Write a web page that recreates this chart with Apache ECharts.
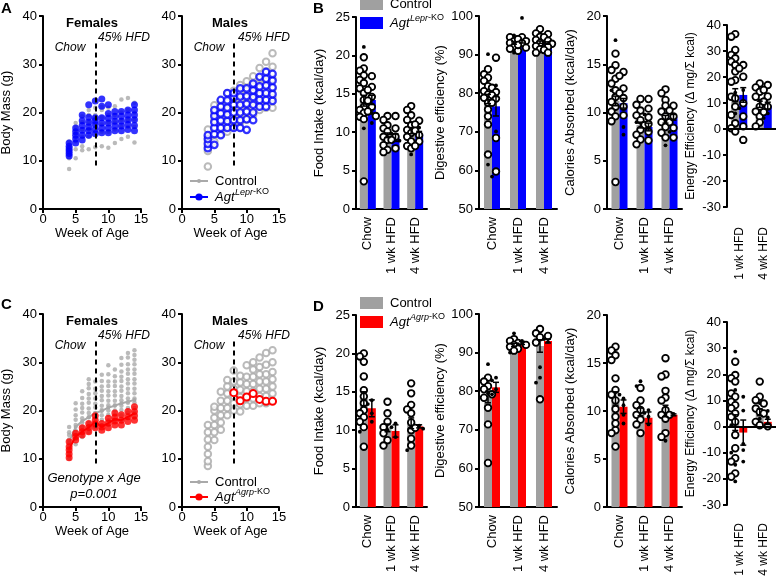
<!DOCTYPE html>
<html><head><meta charset="utf-8">
<script src="https://cdn.jsdelivr.net/npm/echarts@6/dist/echarts.min.js"></script>
<style>html,body{margin:0;padding:0;background:#fff}#c{width:776px;height:581px}</style>
</head><body><div id="c"></div>
<script>
// ---------------- DATA ----------------
const weeks = [4,5,6,7,8,9,10,11,12,13,14];
const barCats = ['Chow','1 wk HFD','4 wk HFD'];
const eeCats = ['1 wk HFD','4 wk HFD'];

// Panel A females (per week lists, body mass g)
const A_fem_ctrl = [
 [8.3,10.5,11.2,12.0,12.4,13.0,14.0],[10.5,12.4,14.0,15.0,16.0,17.0,17.8],[12.2,13.0,15.0,16.5,18.0,19.2],
 [12.4,15.0,16.5,18.0,19.5,20.5],[12.8,16.0,17.5,19.0,19.5,21.0],[13.0,16.0,17.5,19.0,20.5,21.2],
 [12.7,16.0,18.0,19.5,21.0],[13.7,16.5,18.0,19.5,21.3],[14.5,17.0,18.5,20.0,22.7],[15.0,17.0,18.5,20.5,23.0],[13.8,17.0,18.5,20.0,22.0]];
const A_fem_ko = [
 [11.0,11.5,12.0,12.5,13.0,13.7],[13.7,14.5,15.3,16.0,16.8],[14.3,15.3,16.3,17.3,18.3,19.5],
 [15.3,16.2,17.0,18.0,19.0,21.6],[15.6,16.5,17.5,18.3,18.9,22.4],[15.8,16.8,17.8,18.9,21.3,22.8],
 [15.8,16.8,17.8,18.8,19.8,21.6],[16.2,17.2,18.2,19.2,20.2],[16.2,17.2,18.2,19.2,20.2],[16.5,17.5,18.5,19.5,20.5],[16.2,17.3,18.5,19.5,20.5,21.6]];
// Panel A males
const A_male_ctrl = [
 [8.8,12.0,13.0,14.0,15.0,16.5],[14.0,15.5,17.0,18.5,20.0,21.5],[15.5,17.0,18.5,20.0,21.5,22.5],
 [16.0,17.5,19.0,20.5,22.0,24.0],[17.0,18.5,20.0,21.5,23.0,24.5],[18.0,19.5,21.0,22.5,24.0,25.7],
 [18.5,20.0,21.5,23.0,24.5,26.5],[19.5,21.0,22.5,24.0,25.5,27.5],[20.5,22.0,23.5,25.0,27.0,29.2],
 [21.0,22.5,24.5,26.5,28.5,30.5],[21.0,23.0,25.0,27.0,29.5,32.3]];
const A_male_ko = [
 [12.6,13.5,14.5,15.3],[13.3,15.5,16.8,18.0,19.3,20.5],[15.3,16.8,18.3,19.8,21.2,22.6],
 [16.8,18.2,19.6,21.0,22.5,24.0],[16.8,18.4,20.0,21.6,23.2,24.0],[16.8,18.4,20.0,21.6,23.3,25.0],
 [16.4,18.6,20.2,21.8,23.4,25.0],[18.4,20.0,21.6,23.2,24.6,26.0],[21.2,22.6,24.0,25.4,27.4],
 [21.2,22.6,24.0,25.6,27.0,28.4],[22.4,23.8,25.2,26.6,28.0]];
// Panel C females
const C_fem_ctrl = [
 [10.0,10.9,11.6,12.5,13.1,14.0,14.9,15.5,16.6],[13.0,14.1,15.0,15.8,17.0,18.1,19.0,20.2,21.5],
 [14.5,15.4,16.6,17.5,18.4,19.6,20.5,21.4,22.6,24.0],[15.5,16.6,17.4,18.6,19.5,20.4,21.6,22.5,23.4,24.6,25.5,26.5],
 [16.5,17.6,18.4,19.5,20.6,21.4,22.5,23.6,24.5,26.0],[17.0,18.1,19.0,20.1,21.0,22.1,23.0,24.1,25.0,26.1,27.4],
 [17.0,18.0,19.1,20.0,21.1,22.0,23.1,24.0,25.1,26.0,27.5,29.4],[18.0,19.1,20.0,21.1,22.0,23.1,24.0,25.1,26.0,27.1,28.5],
 [18.0,19.0,20.1,21.0,22.1,23.0,24.1,25.0,26.1,27.0,28.1,29.5,30.9],[18.5,19.6,20.5,21.6,22.5,23.6,24.5,25.6,26.5,27.6,28.5,29.6,31.0,31.9],
 [18.5,19.6,20.5,21.6,22.5,23.6,24.5,25.6,26.5,27.6,28.5,29.6,30.5,31.5,32.5]];
const C_fem_ko = [
 [10.2,11.0,11.8,12.5,13.5],[13.9,14.6,15.3],[14.9,15.6,16.4],[15.6,16.5,17.3],[16.4,17.2,18.0,18.9],
 [15.9,16.6,17.3],[16.4,17.4,18.4],[17.0,17.8,18.6,19.5],[17.0,18.0,19.1],[17.7,18.7,19.8],[18.0,18.9,19.8,20.8]];
const C_fem_ctrl_mean = [13.5,16.6,17.8,18.6,19.5,19.9,20.6,21.0,21.5,21.8,22.2];
const C_fem_ko_mean = [12.0,14.6,15.6,16.5,17.6,16.6,17.4,18.2,18.0,18.7,19.4];
// Panel C males
const C_male_ctrl = [
 [8.5,9.5,11.0,12.5,14.0,15.5,17.0],[13.9,15.5,17.0,18.5,20.0,20.8],[16.0,17.5,19.0,20.5,22.0,23.9],
 [19.0,20.5,22.0,23.5,25.0,26.3],[20.0,21.5,23.0,24.5,26.0,28.3],[19.8,21.3,22.8,24.3,25.8,27.2],
 [21.0,22.5,24.0,25.5,27.0,29.4],[21.0,22.5,24.0,25.5,27.0,28.5,30.0],[21.5,23.0,24.5,26.0,27.5,29.0,31.0],
 [21.5,23.0,24.5,26.0,27.5,29.5,31.9],[22.0,23.5,25.0,26.5,28.0,30.0,32.5]];
const C_male_ko_weeks = [8,9,10,11,12,13,14];
const C_male_ko = [23.7,22.0,22.8,23.5,22.3,21.9,21.9];

// Panel B (Agt Lepr-KO)
const B_food_ctrl_mean=[14.1,9.6,10.2], B_food_ko_mean=[14.2,9.3,9.7];
const B_food_ctrl_sem=[0.7,0.3,0.4], B_food_ko_sem=[0.6,0.5,0.4];
const B_food_ctrl_open=[[19.75,18.3,18.0,17.4,16.8,16.4,15.7,15.1,14.2,13.3,12.9,12.5,12.0,11.7,3.6],[12.1,11.6,10.9,10.5,10.1,9.4,9.0,8.3,7.7,7.4],[13.4,12.9,12.2,11.6,10.9,10.3,9.9,9.4,8.8,8.2,7.9]];
const B_food_ctrl_dot=[[21.1,10.5],[9.8],[7.1]];
const B_food_ko_open=[[17.3,15.9,15.5,14.6,14.1,13.3,12.7,12.1],[12.1,10.5,9.4,9.0,7.9],[11.5,11.0,10.2,9.6,8.8,8.2]];
const B_food_ko_dot=[[12.5,11.2],[8.9],[10.6]];

const B_dig_ctrl_mean=[78.5,93.0,93.2], B_dig_ko_mean=[76.6,93.3,93.0];
const B_dig_ctrl_sem=[1.2,0.3,0.3], B_dig_ko_sem=[2.5,0.3,0.3];
const B_dig_ctrl_open=[[86.2,84.9,84.0,83.2,81.8,80.5,79.7,78.8,77.5,75.8,74.0,71.9,64.1],[94.5,94.0,93.5,93.0,92.5,92.0,91.5,91.0],[96.6,95.5,94.6,93.8,93.0,92.2,91.4,90.5]];
const B_dig_ctrl_dot=[[90.1,61.5],[95.0,90.5],[92.0]];
const B_dig_ko_open=[[89.2,81.4,80.3,79.5,78.6,77.5,68.4,59.7],[94.5,94.0,93.5,93.0,92.5,91.8],[95.3,94.5,93.6,92.8,92.0,91.2,90.5]];
const B_dig_ko_dot=[[82.0,70.1,58.4],[99.5],[93.0]];

const B_cal_ctrl_mean=[11.2,8.7,9.3], B_cal_ko_mean=[10.95,8.5,9.5];
const B_cal_ctrl_sem=[0.5,0.3,0.4], B_cal_ko_sem=[0.5,0.4,0.3];
const B_cal_ctrl_open=[[16.1,14.9,14.4,13.5,13.0,12.3,11.6,11.1,10.6,10.1,9.6,9.1,2.8],[11.4,10.8,10.2,9.7,9.2,8.7,8.2,7.7,7.2,6.7],[12.4,12.0,11.3,10.7,10.1,9.6,9.0,8.5,7.9,7.4]];
const B_cal_ctrl_dot=[[17.5,12.3],[9.0],[6.6]];
const B_cal_ko_open=[[14.2,13.8,12.5,12.0,11.5,10.6,9.7],[11.4,10.4,9.5,8.8,8.0,7.1],[10.7,10.2,9.6,9.0,8.4,7.4]];
const B_cal_ko_dot=[[8.5,7.7],[9.8],[8.0]];

const B_ee_ctrl_mean=[13.0,9.5], B_ee_ko_mean=[13.1,9.0];
const B_ee_ctrl_sem=[2.5,1.2], B_ee_ko_sem=[2.8,1.3];
const B_ee_ctrl_open=[[36.5,35.5,30.4,28.5,27.2,25.9,24.6,22.1,18.8,18.2,12.4,11.8,8.6,5.4,2.2,0.3,-1.0],[17.5,16.0,14.3,12.4,10.5,8.6,6.7,4.8,2.5,1.0]];
const B_ee_ctrl_dot=[[14.0,6.0],[11.0]];
const B_ee_ko_open=[[24.6,23.3,20.1,9.9,4.8,1.0,-4.2],[16.9,15.0,12.5,10.5,8.6,6.5]];
const B_ee_ko_dot=[[15.0,8.0],[4.2,6.0]];

// Panel D (Agt Agrp-KO)
const D_food_ctrl_mean=[14.1,10.3,10.9], D_food_ko_mean=[12.85,9.9,10.5];
const D_food_ctrl_sem=[0.9,0.5,0.7], D_food_ko_sem=[1.1,0.8,0.2];
const D_food_ctrl_open=[[20.0,19.6,18.9,17.0,15.2,14.4,13.5,12.6,12.2,11.7,11.1,10.4,7.85],[13.7,12.2,11.1,10.4,9.6,8.7,8.0],[16.1,14.8,13.3,12.7,12.2,11.0,10.0,8.9,8.0]];
const D_food_ctrl_dot=[[9.8],[10.0],[7.4]];
const D_food_ko_open=[[],[],[10.3]];
const D_food_ko_dot=[[13.9,13.4,12.2,11.1],[10.9,10.4,9.1],[10.2,10.6]];

const D_dig_ctrl_mean=[78.5,92.0,91.7], D_dig_ko_mean=[81.0,92.5,93.0];
const D_dig_ctrl_sem=[1.5,0.4,1.6], D_dig_ko_sem=[1.3,0.4,0.5];
const D_dig_ctrl_open=[[83.5,82.5,81.3,80.5,79.2,78.3,75.7,71.4,61.4],[93.5,93.0,92.5,92.0,91.5,91.0,90.5],[96.1,95.0,94.0,92.6,77.9]];
const D_dig_ctrl_dot=[[87.0,79.5],[95.0,90.0],[86.2,83.5,82.2]];
const D_dig_ko_open=[[],[92.0],[94.3]];
const D_dig_ko_dot=[[83.5,82.8,80.5,79.2],[93.0,92.2],[93.5,92.8]];

const D_cal_ctrl_mean=[11.3,9.9,10.0], D_cal_ko_mean=[10.45,9.3,9.6];
const D_cal_ctrl_sem=[0.7,0.4,0.6], D_cal_ko_sem=[0.7,0.6,0.1];
const D_cal_ctrl_open=[[16.7,16.3,15.8,15.3,13.4,12.2,11.7,11.1,10.2,9.4,8.7,8.0,7.7,6.3],[12.4,11.1,10.6,10.1,9.6,9.1,8.6,7.7],[15.5,13.8,13.6,12.1,11.4,11.1,10.1,9.6,9.2,7.7,7.3]];
const D_cal_ctrl_dot=[[11.7],[13.1,12.6],[6.9]];
const D_cal_ko_open=[[],[],[9.6]];
const D_cal_ko_dot=[[11.3,10.6,9.6,8.7],[10.1,9.8,9.4,8.6],[9.7]];

const D_ee_ctrl_mean=[1.5,5.5], D_ee_ko_mean=[-2.3,1.8];
const D_ee_ctrl_sem=[3.0,1.3], D_ee_ko_sem=[4.8,1.0];
const D_ee_ctrl_open=[[24.8,19.7,18.5,17.2,12.7,11.4,9.5,8.2,7.0,5.0,3.7,1.8,-3.2,-8.3,-12.1,-13.4,-17.9,-19.2],[17.2,11.4,10.1,8.8,6.9,5.6,5.0,1.8,0.5]];
const D_ee_ctrl_dot=[[28.7,14.0,0.5,-10.0,-14.6,-21.0],[9.0,3.0]];
const D_ee_ko_open=[[],[0.1]];
const D_ee_ko_dot=[[11.4,6.1,-6.6,-9.0,-13.4],[6.0,3.5]];

// ---------------- STYLE / BUILD ----------------
const FF = '"Liberation Sans", Arial, sans-serif';
const PT_GRAY = '#a9a9a9', BAR_GRAY = '#a0a0a0', BLUE = '#0000ff', RED = '#ff0000';
const BW = 8;
const grids=[], xAxes=[], yAxes=[], series=[], graphics=[];
const lineSt = {color:'#000', width:2};

function yAxisCfg(gi,min,max,interval,name,fs){
  return {gridIndex:gi,type:'value',min,max,interval,
    axisLine:{show:true,onZero:false,lineStyle:lineSt},
    axisTick:{show:true,length:4,lineStyle:lineSt},
    axisLabel:{color:'#000',fontSize:13,fontFamily:FF,margin:6},
    splitLine:{show:false},
    name:name||'',nameLocation:'middle',nameGap:30,
    nameTextStyle:{color:'#000',fontSize:fs||13,fontFamily:FF}};
}
function flatten(ws, lists){ const out=[]; ws.forEach((w,i)=>lists[i].forEach(v=>out.push([w,v]))); return out; }

function scatterPanel(p){
  const gi=grids.length;
  grids.push({left:p.left,top:p.top,width:p.w,height:p.h,containLabel:false,outerBoundsMode:'none'});
  xAxes.push({gridIndex:gi,type:'value',min:0,max:15,interval:5,
    axisLine:{onZero:false,lineStyle:lineSt},axisTick:{length:4,lineStyle:lineSt},
    axisLabel:{color:'#000',fontSize:13,fontFamily:FF,margin:4},splitLine:{show:false},
    name:'Week of Age',nameLocation:'middle',nameGap:17,nameTextStyle:{color:'#000',fontSize:13,fontFamily:FF}});
  yAxes.push(yAxisCfg(gi,0,40,10,p.yName));
  const ax={xAxisIndex:gi,yAxisIndex:gi};
  if(p.ctrlMean) series.push(Object.assign({type:'line',data:weeks.map((w,i)=>[w,p.ctrlMean[i]]),symbol:'circle',symbolSize:4,
     lineStyle:{color:PT_GRAY,width:2},itemStyle:{color:PT_GRAY},z:3},ax));
  series.push(Object.assign({type:'scatter',data:flatten(weeks,p.ctrl),symbolSize:p.ctrlSize,
    itemStyle:p.ctrlOpen?{color:'#fff',borderColor:PT_GRAY,borderWidth:2}:{color:PT_GRAY},z:2,
    markLine:{silent:true,symbol:'none',label:{show:false},lineStyle:{color:'#000',width:2,type:[5,4]},
      data:[[{coord:[8,9]},{coord:[8,34.5]}]]}},ax));
  if(p.ko) series.push(Object.assign({type:'scatter',data:flatten(weeks,p.ko),symbolSize:p.koSize,
    itemStyle:p.koOpen?{color:'#fff',borderColor:p.koColor,borderWidth:2.2}:{color:p.koColor},z:4},ax));
  if(p.koMean) series.push(Object.assign({type:'line',data:weeks.map((w,i)=>[w,p.koMean[i]]),symbol:'none',
     lineStyle:{color:p.koColor,width:2},z:3},ax));
  if(p.koLine) series.push(Object.assign({type:'line',data:p.koLineWeeks.map((w,i)=>[w,p.koLine[i]]),symbol:'circle',symbolSize:7,
     lineStyle:{color:p.koColor,width:2},itemStyle:{color:'#fff',borderColor:p.koColor,borderWidth:2},z:5},ax));
}

function swarm(vals, range){
  const n=vals.length, dx=new Array(n).fill(0);
  const order=vals.map((v,i)=>i).sort((a,b)=>vals[b]-vals[a]);
  const thr=range*0.03, cand=[0,-2.5,2.5,-4,4], placed=[];
  order.forEach(i=>{
    let best=0,bestC=1e9;
    for(const c of cand){
      let conf=0; placed.forEach(j=>{ if(Math.abs(vals[j]-vals[i])<thr && Math.abs(dx[j]-c)<3) conf++; });
      if(conf<bestC){bestC=conf;best=c;} if(conf===0) break;
    }
    dx[i]=best; placed.push(i);
  });
  return dx;
}
function pointData(open, dot, side, range){
  const out=[];
  open.forEach((lst,ci)=>{
    const all=lst.concat(dot[ci]); const dx=swarm(all,range);
    all.forEach((v,k)=>out.push([ci,v,dx[k],side,k<lst.length?0:1]));
  });
  return out;
}
function renderPoint(params, api){
  const c=api.coord([api.value(0),api.value(1)]);
  const x=c[0]+api.value(3)*BW/2+api.value(2);
  if(api.value(4)===0) return {type:'circle',shape:{cx:x,cy:c[1],r:3.3},style:{fill:'#fff',stroke:'#000',lineWidth:1.8}};
  return {type:'circle',shape:{cx:x,cy:c[1],r:1.9},style:{fill:'#000'}};
}
function renderErr(params, api){
  const i=api.value(0), m=api.value(1), s=api.value(2), side=api.value(3);
  const x=api.coord([i,m])[0]+side*BW/2;
  const y1=api.coord([i,m+s])[1], y2=api.coord([i,m-s])[1];
  const st={stroke:'#000',lineWidth:1.5};
  return {type:'group',children:[
    {type:'line',shape:{x1:x,y1:y1,x2:x,y2:y2},style:st},
    {type:'line',shape:{x1:x-3,y1:y1,x2:x+3,y2:y1},style:st},
    {type:'line',shape:{x1:x-3,y1:y2,x2:x+3,y2:y2},style:st}]};
}

function barPanel(p){
  const gi=grids.length;
  grids.push({left:p.left,top:p.top,width:p.w,height:p.h,containLabel:false,outerBoundsMode:'none'});
  xAxes.push({gridIndex:gi,type:'category',data:p.cats,
    axisLine:{show:!p.zero,onZero:false,lineStyle:lineSt},axisTick:{show:false},
    axisLabel:{rotate:90,interval:0,color:'#000',fontSize:p.labelSize||13,fontFamily:FF,margin:p.margin||8}});
  yAxes.push(yAxisCfg(gi,p.min,p.max,p.interval,p.name,p.nameSize));
  const ax={xAxisIndex:gi,yAxisIndex:gi};
  series.push(Object.assign({type:'bar',data:p.cm,barWidth:BW,barGap:'0%',itemStyle:{color:BAR_GRAY},z:2},ax));
  const ko=Object.assign({type:'bar',data:p.km,barWidth:BW,barGap:'0%',itemStyle:{color:p.koColor},z:2},ax);
  if(p.zero) ko.markLine={silent:true,symbol:'none',label:{show:false},lineStyle:{color:'#000',width:2,type:'solid'},data:[{yAxis:0}]};
  series.push(ko);
  const range=p.max-p.min;
  series.push(Object.assign({type:'custom',renderItem:renderPoint,z:4,
    data:pointData(p.co,p.cd,-1,range).concat(pointData(p.ko,p.kd,1,range))},ax));
  series.push(Object.assign({type:'custom',renderItem:renderErr,z:5,
    data:p.cm.map((m,i)=>[i,m,p.cs[i],-1]).concat(p.km.map((m,i)=>[i,m,p.ks[i],1]))},ax));
}

// ---- Row 1 ----
scatterPanel({left:43,top:16,w:98,h:193,yName:'Body Mass (g)',ctrl:A_fem_ctrl,ctrlSize:4.5,ko:A_fem_ko,koSize:7,koColor:BLUE});
scatterPanel({left:182,top:16,w:97,h:193,ctrl:A_male_ctrl,ctrlSize:6.5,ctrlOpen:true,ko:A_male_ko,koSize:6.5,koOpen:true,koColor:BLUE});
barPanel({left:356,top:17,w:71,h:192,cats:barCats,min:0,max:25,interval:5,name:'Food Intake (kcal/day)',koColor:BLUE,
  cm:B_food_ctrl_mean,km:B_food_ko_mean,cs:B_food_ctrl_sem,ks:B_food_ko_sem,co:B_food_ctrl_open,cd:B_food_ctrl_dot,ko:B_food_ko_open,kd:B_food_ko_dot});
barPanel({left:479,top:16,w:78,h:193,cats:barCats,min:50,max:100,interval:10,name:'Digestive efficiency (%)',koColor:BLUE,
  cm:B_dig_ctrl_mean,km:B_dig_ko_mean,cs:B_dig_ctrl_sem,ks:B_dig_ko_sem,co:B_dig_ctrl_open,cd:B_dig_ctrl_dot,ko:B_dig_ko_open,kd:B_dig_ko_dot});
barPanel({left:607,top:16,w:75,h:193,cats:barCats,min:0,max:20,interval:5,name:'Calories Absorbed (kcal/day)',koColor:BLUE,
  cm:B_cal_ctrl_mean,km:B_cal_ko_mean,cs:B_cal_ctrl_sem,ks:B_cal_ko_sem,co:B_cal_ctrl_open,cd:B_cal_ctrl_dot,ko:B_cal_ko_open,kd:B_cal_ko_dot});
barPanel({left:727,top:25,w:49,h:182,cats:eeCats,min:-30,max:40,interval:10,name:'Energy Efficiency (\u0394 mg/\u03a3 kcal)',nameSize:12,koColor:BLUE,zero:true,margin:20,labelSize:12,
  cm:B_ee_ctrl_mean,km:B_ee_ko_mean,cs:B_ee_ctrl_sem,ks:B_ee_ko_sem,co:B_ee_ctrl_open,cd:B_ee_ctrl_dot,ko:B_ee_ko_open,kd:B_ee_ko_dot});
// ---- Row 2 ----
scatterPanel({left:43,top:314,w:98,h:193,yName:'Body Mass (g)',ctrl:C_fem_ctrl,ctrlSize:4.5,ctrlMean:C_fem_ctrl_mean,ko:C_fem_ko,koSize:7,koColor:RED,koMean:C_fem_ko_mean});
scatterPanel({left:182,top:314,w:97,h:193,ctrl:C_male_ctrl,ctrlSize:6.5,ctrlOpen:true,koColor:RED,koLine:C_male_ko,koLineWeeks:C_male_ko_weeks});
barPanel({left:356,top:315,w:71,h:192,cats:barCats,min:0,max:25,interval:5,name:'Food Intake (kcal/day)',koColor:RED,
  cm:D_food_ctrl_mean,km:D_food_ko_mean,cs:D_food_ctrl_sem,ks:D_food_ko_sem,co:D_food_ctrl_open,cd:D_food_ctrl_dot,ko:D_food_ko_open,kd:D_food_ko_dot});
barPanel({left:479,top:314,w:78,h:193,cats:barCats,min:50,max:100,interval:10,name:'Digestive efficiency (%)',koColor:RED,
  cm:D_dig_ctrl_mean,km:D_dig_ko_mean,cs:D_dig_ctrl_sem,ks:D_dig_ko_sem,co:D_dig_ctrl_open,cd:D_dig_ctrl_dot,ko:D_dig_ko_open,kd:D_dig_ko_dot});
barPanel({left:607,top:315,w:75,h:192,cats:barCats,min:0,max:20,interval:5,name:'Calories Absorbed (kcal/day)',koColor:RED,
  cm:D_cal_ctrl_mean,km:D_cal_ko_mean,cs:D_cal_ctrl_sem,ks:D_cal_ko_sem,co:D_cal_ctrl_open,cd:D_cal_ctrl_dot,ko:D_cal_ko_open,kd:D_cal_ko_dot});
barPanel({left:727,top:322,w:49,h:183,cats:eeCats,min:-30,max:40,interval:10,name:'Energy Efficiency (\u0394 mg/\u03a3 kcal)',nameSize:12,koColor:RED,zero:true,margin:18,labelSize:12,
  cm:D_ee_ctrl_mean,km:D_ee_ko_mean,cs:D_ee_ctrl_sem,ks:D_ee_ko_sem,co:D_ee_ctrl_open,cd:D_ee_ctrl_dot,ko:D_ee_ko_open,kd:D_ee_ko_dot});

// ---- annotations ----
function txt(x,y,text,font,align,extra){
  graphics.push({type:'text',x,y,silent:true,style:Object.assign({text,font:font+' '+FF,fill:'#000',align:align||'left',verticalAlign:'middle'},extra||{})});
}
function sup(x,y,base){
  txt(x,y,'Agt','italic 13px','left');
  graphics.push({type:'text',x:x+20,y:y-5,silent:true,style:{text:'{i|'+base+'}{n|-KO}',fill:'#000',align:'left',verticalAlign:'middle',
    rich:{i:{fontStyle:'italic',fontSize:9,fontFamily:FF,fill:'#000'},n:{fontSize:9,fontFamily:FF,fill:'#000'}}}});
}
['A','B','C','D'].forEach((L,i)=>txt([1,313,1,313][i],[9,9,305,307][i],L,'bold 15px','left'));
[0,298].forEach(dy=>{
  txt(92,23+dy,'Females','bold 13px','center');
  txt(230,23+dy,'Males','bold 13px','center');
  txt(70,48+dy,'Chow','italic 12px','center');
  txt(209,48+dy,'Chow','italic 12px','center');
  txt(98,38+dy,'45% HFD','italic 12px','left');
  txt(238,38+dy,'45% HFD','italic 12px','left');
});
txt(94,478,'Genotype x Age','italic 13px','center');
txt(94,494,'p=0.001','italic 13px','center');
// scatter legends
function scLegend(x,y1,y2,col,base){
  graphics.push({type:'line',silent:true,shape:{x1:x,y1:y1,x2:x+18,y2:y1},style:{stroke:PT_GRAY,lineWidth:2}});
  graphics.push({type:'circle',silent:true,shape:{cx:x+9,cy:y1,r:2},style:{fill:PT_GRAY}});
  txt(x+25,y1,'Control','13px','left');
  graphics.push({type:'line',silent:true,shape:{x1:x,y1:y2,x2:x+18,y2:y2},style:{stroke:col,lineWidth:2}});
  graphics.push({type:'circle',silent:true,shape:{cx:x+9,cy:y2,r:3.6},style:{fill:col}});
  sup(x+25,y2,base);
}
scLegend(190,181,197,BLUE,'Lepr');
scLegend(190,482,497,RED,'Agrp');
function barLegend(x,yc,yk,col,base){
  graphics.push({type:'rect',silent:true,shape:{x:x,y:yc-6,width:23,height:12},style:{fill:BAR_GRAY}});
  txt(x+30,yc,'Control','13px','left');
  graphics.push({type:'rect',silent:true,shape:{x:x,y:yk-6,width:23,height:12},style:{fill:col}});
  sup(x+30,yk,base);
}
barLegend(360,4,23,BLUE,'Lepr');
barLegend(360,303,322,RED,'Agrp');

const chart=echarts.init(document.getElementById('c'),null,{renderer:'canvas'});
chart.setOption({animation:false,backgroundColor:'#fff',grid:grids,xAxis:xAxes,yAxis:yAxes,series:series,graphic:graphics});
</script></body></html>
